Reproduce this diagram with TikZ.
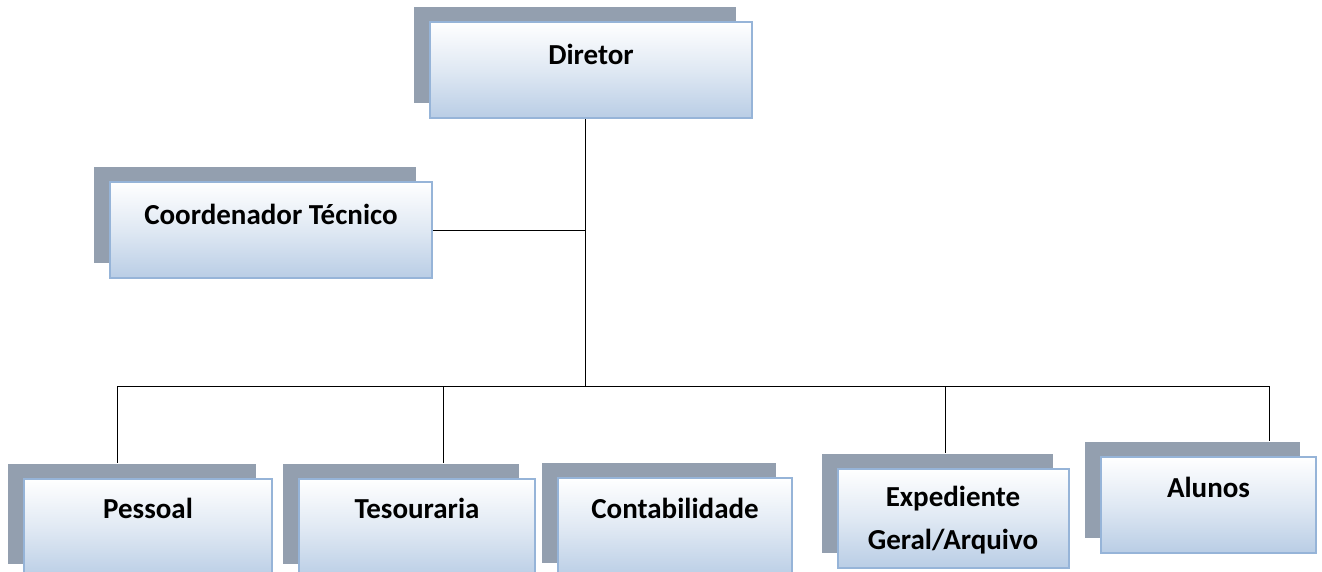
\documentclass[tikz,border=0pt]{standalone}
\usepackage{fontspec}
\setmainfont{Carlito}
\usetikzlibrary{shadows}
\definecolor{shadowc}{RGB}{147,159,175}
\definecolor{boxborder}{RGB}{150,180,216}
\definecolor{boxbottom}{RGB}{185,205,229}
\tikzset{
  orgbox/.style={rectangle, draw=boxborder, line width=2pt,
    top color=white, bottom color=boxbottom, middle color=boxbottom!45!white,
    inner sep=0pt,
    general shadow={fill=shadowc, shadow xshift=-16pt, shadow yshift=15pt}},
  boxtext/.style={font=\bfseries\fontsize{29}{43}\selectfont, align=center, inner sep=0pt},
  link/.style={draw=black, line width=1pt}
}
\begin{document}
\begin{tikzpicture}[x=1pt,y=-1pt]
\useasboundingbox (0,0) rectangle (1322,571);
\clip (0,0) rectangle (1322,571);
\fill[white] (0,0) rectangle (1322,571);

% boxes
\node[orgbox, minimum width=322pt, minimum height=96pt,
  label={[boxtext, anchor=center, yshift=-33pt]north:Diretor}] (dir) at (591,70) {};
\node[orgbox, minimum width=322pt, minimum height=96pt,
  label={[boxtext, anchor=center, yshift=-33pt]north:Coordenador Técnico}] (coord) at (271,230) {};
\node[orgbox, minimum width=248pt, minimum height=100pt,
  label={[boxtext, anchor=center, yshift=-30pt]north:Pessoal}] (pes) at (148,529) {};
\node[orgbox, minimum width=236pt, minimum height=100pt,
  label={[boxtext, anchor=center, yshift=-30pt]north:Tesouraria}] (tes) at (417,529) {};
\node[orgbox, minimum width=234pt, minimum height=100pt,
  label={[boxtext, anchor=center, yshift=-31pt]north:Contabilidade}] (con) at (675,528) {};
\node[orgbox, minimum width=231pt, minimum height=99pt,
  label={[boxtext, anchor=center, yshift=-52pt]north:Expediente\\Geral/Arquivo}] (exp) at (953,518.5) {};
\node[orgbox, minimum width=215pt, minimum height=96pt,
  label={[boxtext, anchor=center, yshift=-31pt]north:Alunos}] (alu) at (1208.5,505) {};

% shadow tops
\coordinate (pesT) at ([yshift=15pt]pes.north);
\coordinate (tesT) at ([yshift=15pt]tes.north);
\coordinate (expT) at ([yshift=15pt]exp.north);
\coordinate (aluT) at ([yshift=15pt]alu.north);

% junctions
\coordinate (j) at (585,386);
\coordinate (b1) at (117,386);
\coordinate (b2) at (443,386);
\coordinate (b4) at (945,386);
\coordinate (b5) at (1269,386);

% connectors
\draw[link] (dir.south -| j) -- (j);
\draw[link] (coord.east) -- (coord.east -| j);
\draw[link] (b1) -- (b5);
\draw[link] (b1) -- (b1 |- pesT);
\draw[link] (b2) -- (b2 |- tesT);
\draw[link] (b4) -- (b4 |- expT);
\draw[link] (b5) -- (b5 |- aluT);
\end{tikzpicture}
\end{document}
